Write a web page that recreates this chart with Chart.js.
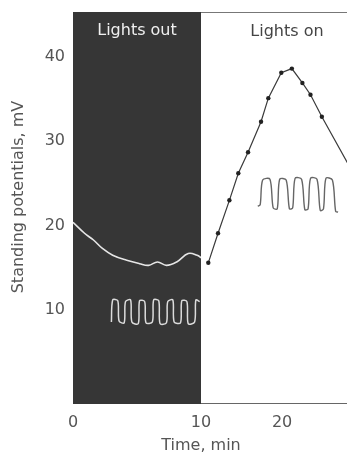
<!DOCTYPE html>
<html>
<head>
<meta charset="utf-8">
<script src="https://cdn.jsdelivr.net/npm/chart.js@4"></script>
<style>
html, body { margin: 0; padding: 0; background: #fff; }
#wrap { width: 347px; height: 458px; }
</style>
</head>
<body>
<div id="wrap"><canvas id="chart"></canvas></div>
<script>
// standing potential in the dark, minutes 0-10 (white curve)
var darkTime = [0, 0.9, 1.6, 2.3, 3.1, 4.2, 5.2, 5.9, 6.6, 7.3, 8.1, 9.0, 9.7, 10];
var darkPotential = [20.4, 19.1, 18.3, 17.3, 16.5, 15.9, 15.5, 15.3, 15.7, 15.3, 15.7, 16.7, 16.5, 16.2];

// after lights on (dotted points)
var lightTime = [10.9, 12.1, 13.5, 14.6, 15.8, 17.4, 18.3, 19.9, 21.2, 22.5, 23.5, 24.9, 28.6];
var lightPotential = [15.6, 19.1, 23.0, 26.2, 28.7, 32.3, 35.1, 38.1, 38.6, 36.9, 35.5, 32.9, 26.5];

// sample recordings drawn as insets
var darkTraceTime = [3.0, 3.1, 3.5, 3.6, 4.0, 4.1, 4.5, 4.6, 5.1, 5.2, 5.6, 5.7, 6.2, 6.3, 6.7, 6.8, 7.3, 7.4, 7.8, 7.9, 8.4, 8.5, 8.9, 9.0, 9.5, 9.6, 9.9];
var darkTraceValue = [8.6, 11.2, 11.1, 8.7, 8.5, 11.0, 11.2, 8.6, 8.4, 11.1, 11.0, 8.5, 8.6, 11.2, 11.1, 8.4, 8.5, 11.0, 11.2, 8.6, 8.5, 11.1, 11.0, 8.4, 8.6, 11.2, 11.0];
var lightTraceTime = [17.0, 17.3, 17.6, 18.5, 18.9, 19.4, 19.7, 20.5, 20.9, 21.3, 21.6, 22.4, 22.8, 23.2, 23.5, 24.3, 24.7, 25.1, 25.4, 26.2, 26.6, 26.9];
var lightTraceValue = [22.3, 22.5, 25.4, 25.5, 22.1, 22.0, 25.5, 25.4, 22.0, 22.1, 25.6, 25.5, 21.9, 22.0, 25.6, 25.5, 21.8, 22.0, 25.6, 25.4, 21.7, 21.6];

var yTicks = [10, 20, 30, 40];
var xTicksDark = [0, 10];
var xTicksLight = [20];

function pts(xs, ys) {
    return xs.map(function(x, i) { return {x: x, y: ys[i]}; });
}

var FONT = 'DejaVu Sans';

var decor = {
    id: 'decor',
    beforeDatasetsDraw: function(chart) {
        var ctx = chart.ctx,
            a = chart.chartArea,
            xd = chart.scales.xDark,
            xl = chart.scales.xLight;
        var l = xd.getPixelForValue(0),
            r = xd.getPixelForValue(10);
        ctx.save();
        ctx.fillStyle = '#363636';
        ctx.fillRect(l, a.top, r - l, a.bottom - a.top);
        // frame along the top of the lit part
        ctx.strokeStyle = '#777';
        ctx.lineWidth = 1;
        ctx.beginPath();
        ctx.moveTo(r, a.top + 0.5);
        ctx.lineTo(a.right, a.top + 0.5);
        ctx.stroke();

        ctx.font = '16px "' + FONT + '"';
        ctx.textAlign = 'center';
        ctx.textBaseline = 'middle';
        ctx.fillStyle = '#f0f0f0';
        ctx.fillText('Lights out', (l + r) / 2, a.top + 19);
        ctx.fillStyle = '#444';
        ctx.fillText('Lights on', xl.getPixelForValue(20.6), a.top + 20);
        ctx.fillStyle = '#555';
        ctx.fillText('Time, min', r, 446);
        ctx.translate(19, 197);
        ctx.rotate(-Math.PI / 2);
        ctx.fillText('Standing potentials, mV', 0, 0);
        ctx.restore();
    }
};

function noSidePadding(s) {
    s.paddingLeft = 0;
    s.paddingRight = 0;
}

var ctx = document.getElementById('chart');
new Chart(ctx, {
    type: 'line',
    data: {
        datasets: [{
            label: 'dark',
            data: pts(darkTime, darkPotential),
            xAxisID: 'xDark',
            borderColor: '#e6e6e6',
            borderWidth: 1.6,
            pointRadius: 0,
            tension: 0.4
        }, {
            label: 'light',
            data: pts(lightTime, lightPotential),
            xAxisID: 'xLight',
            borderColor: '#3a3a3a',
            borderWidth: 1.2,
            pointRadius: 2.2,
            pointBackgroundColor: '#222',
            pointBorderWidth: 0,
            tension: 0
        }, {
            label: 'dark trace',
            data: pts(darkTraceTime, darkTraceValue),
            xAxisID: 'xDark',
            borderColor: '#dcdcdc',
            borderWidth: 1.5,
            pointRadius: 0,
            tension: 0.3
        }, {
            label: 'light trace',
            data: pts(lightTraceTime, lightTraceValue),
            xAxisID: 'xLight',
            borderColor: '#666',
            borderWidth: 1.4,
            pointRadius: 0,
            tension: 0.3
        }]
    },
    options: {
        responsive: true,
        maintainAspectRatio: false,
        animation: false,
        layout: { autoPadding: false, padding: { top: 12, right: 0, left: 0, bottom: 0 } },
        plugins: {
            legend: { display: false },
            tooltip: { enabled: false }
        },
        scales: {
            xDark: {
                type: 'linear',
                position: 'bottom',
                stack: 'time',
                stackWeight: 128,
                min: 0,
                max: 10,
                grid: { display: false, drawTicks: false },
                border: { color: '#363636', width: 1 },
                ticks: { color: '#555', padding: 10, font: { family: FONT, size: 16 } },
                afterBuildTicks: function(s) { s.ticks = xTicksDark.map(function(v) { return {value: v}; }); },
                afterFit: function(s) { s.height = 55; noSidePadding(s); }
            },
            xLight: {
                type: 'linear',
                position: 'bottom',
                stack: 'time',
                stackWeight: 146,
                min: 10,
                max: 28,
                grid: { display: false, drawTicks: false },
                border: { color: '#666', width: 1 },
                ticks: { color: '#555', padding: 10, font: { family: FONT, size: 16 } },
                afterBuildTicks: function(s) { s.ticks = xTicksLight.map(function(v) { return {value: v}; }); },
                afterFit: function(s) { s.height = 55; noSidePadding(s); }
            },
            y: {
                min: -1,
                max: 45.3,
                grid: { display: false, drawTicks: false },
                border: { color: '#363636' },
                ticks: { color: '#555', padding: 8, font: { family: FONT, size: 16 } },
                afterBuildTicks: function(s) { s.ticks = yTicks.map(function(v) { return {value: v}; }); },
                afterFit: function(s) { s.width = 73; s.paddingTop = 0; s.paddingBottom = 0; }
            }
        }
    },
    plugins: [decor]
});
</script>
</body>
</html>
